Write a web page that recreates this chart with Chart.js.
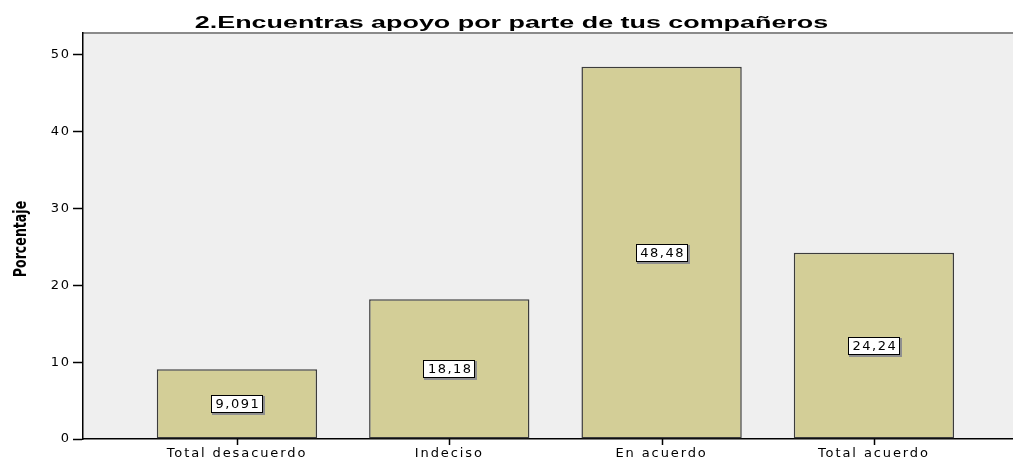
<!DOCTYPE html>
<html>
<head>
<meta charset="utf-8">
<script src="https://cdn.jsdelivr.net/npm/chart.js@4"></script>
<style>
  html, body { margin: 0; padding: 0; background: #fff; overflow: hidden; }
</style>
</head>
<body>
<canvas id="chart" width="1013" height="459"></canvas>
<script>
var chartTitle = '2.Encuentras apoyo por parte de tus compañeros';
var yTitle = 'Porcentaje';
var categories = ['Total desacuerdo', 'Indeciso', 'En acuerdo', 'Total acuerdo'];
var percents = [9.091, 18.18, 48.48, 24.24];
var yTicks = [0, 10, 20, 30, 40, 50];

// SPSS export is stretched sideways, so text gets a bit of extra spacing
var frame = {
  id: 'frame',
  beforeDraw: function (chart) {
    var a = chart.chartArea, ctx = chart.ctx;
    ctx.letterSpacing = '1.9px';
    ctx.save();
    ctx.fillStyle = '#efefef';
    ctx.fillRect(a.left, a.top, a.right - a.left, a.bottom - a.top);
    ctx.strokeStyle = '#8a8a8a';
    ctx.lineWidth = 2;
    ctx.beginPath();
    ctx.moveTo(a.left, a.top);
    ctx.lineTo(a.right, a.top);
    ctx.stroke();
    ctx.restore();
  },
  afterDraw: function (chart) {
    var ctx = chart.ctx, a = chart.chartArea, xs = chart.scales.x;
    // x tick marks under each category
    ctx.save();
    ctx.strokeStyle = '#000';
    ctx.lineWidth = 1.5;
    categories.forEach(function (c, i) {
      var px = Math.round(xs.getPixelForValue(i)) + 0.5;
      ctx.beginPath();
      ctx.moveTo(px, a.bottom);
      ctx.lineTo(px, a.bottom + 6);
      ctx.stroke();
    });
    ctx.restore();
    // title
    ctx.save();
    ctx.letterSpacing = '0px';
    ctx.fillStyle = '#000';
    ctx.textAlign = 'center';
    ctx.textBaseline = 'alphabetic';
    ctx.font = 'bold 16px "Liberation Sans"';
    ctx.translate(chart.width / 2 + 5, 28);
    ctx.scale(1.68, 1);
    ctx.fillText(chartTitle, 0, 0);
    ctx.restore();
    // y axis title
    ctx.save();
    ctx.letterSpacing = '0px';
    ctx.fillStyle = '#000';
    ctx.textAlign = 'center';
    ctx.textBaseline = 'middle';
    ctx.font = 'bold 14px "DejaVu Sans Condensed"';
    ctx.translate(21, (a.top + a.bottom) / 2 + 3);
    ctx.rotate(-Math.PI / 2);
    ctx.scale(1, 1.3);
    ctx.fillText(yTitle, 0, 0);
    ctx.restore();
  }
};

// boxed value labels in the middle of each bar
var valueBoxes = {
  id: 'valueBoxes',
  afterDatasetsDraw: function (chart) {
    var ctx = chart.ctx;
    var meta = chart.getDatasetMeta(0);
    ctx.save();
    ctx.letterSpacing = '1.5px';
    ctx.font = '13px "DejaVu Sans"';
    ctx.textAlign = 'center';
    ctx.textBaseline = 'middle';
    meta.data.forEach(function (bar, i) {
      var text = String(percents[i]).replace('.', ',');
      var y = (bar.y + bar.base) / 2;
      var w = Math.round(ctx.measureText(text).width) + 7, h = 18;
      var x0 = Math.round(bar.x - w / 2), y0 = Math.round(y - h / 2);
      ctx.fillStyle = '#8f8f8f';
      ctx.fillRect(x0 + 1, y0 + 1, w + 1, h + 1);
      ctx.fillStyle = '#fff';
      ctx.fillRect(x0, y0, w, h);
      ctx.strokeStyle = '#000';
      ctx.lineWidth = 1;
      ctx.strokeRect(x0 + 0.5, y0 + 0.5, w - 1, h - 1);
      ctx.fillStyle = '#000';
      ctx.fillText(text, bar.x + 1, y + 1);
    });
    ctx.restore();
  }
};

new Chart('chart', {
  type: 'bar',
  data: {
    datasets: [{
      data: percents.map(function (v, i) { return { x: i, y: v }; }),
      backgroundColor: '#d3ce97',
      borderColor: '#3c3c3c',
      borderWidth: 1.5,
      borderSkipped: false,
      categoryPercentage: 1,
      barPercentage: 0.755
    }]
  },
  options: {
    responsive: false,
    animation: false,
    layout: { padding: { top: 33 } },
    plugins: {
      legend: { display: false },
      tooltip: { enabled: false },
      title: { display: false }
    },
    scales: {
      x: {
        type: 'linear',
        min: -0.725,
        max: 3.655,
        offset: false,
        afterBuildTicks: function (s) {
          s.ticks = categories.map(function (c, i) { return { value: i }; });
        },
        afterFit: function (s) { s.height = 20; },
        grid: { offset: false, drawOnChartArea: false, drawTicks: false },
        border: { color: '#000', width: 1.5 },
        ticks: {
          autoSkip: false,
          maxRotation: 0,
          padding: 7,
          color: '#000',
          font: { family: 'DejaVu Sans', size: 13 },
          callback: function (v) { return categories[v]; }
        }
      },
      y: {
        min: 0,
        max: 52.86,
        afterBuildTicks: function (s) {
          s.ticks = yTicks.map(function (v) { return { value: v }; });
        },
        afterFit: function (s) { s.width = 83; },
        grid: { drawOnChartArea: false, tickLength: 10, color: '#000', tickWidth: 1.5 },
        border: { color: '#000', width: 1.5 },
        ticks: {
          padding: 2,
          color: '#000',
          font: { family: 'DejaVu Sans', size: 13 }
        }
      }
    }
  },
  plugins: [frame, valueBoxes]
});
</script>
</body>
</html>
